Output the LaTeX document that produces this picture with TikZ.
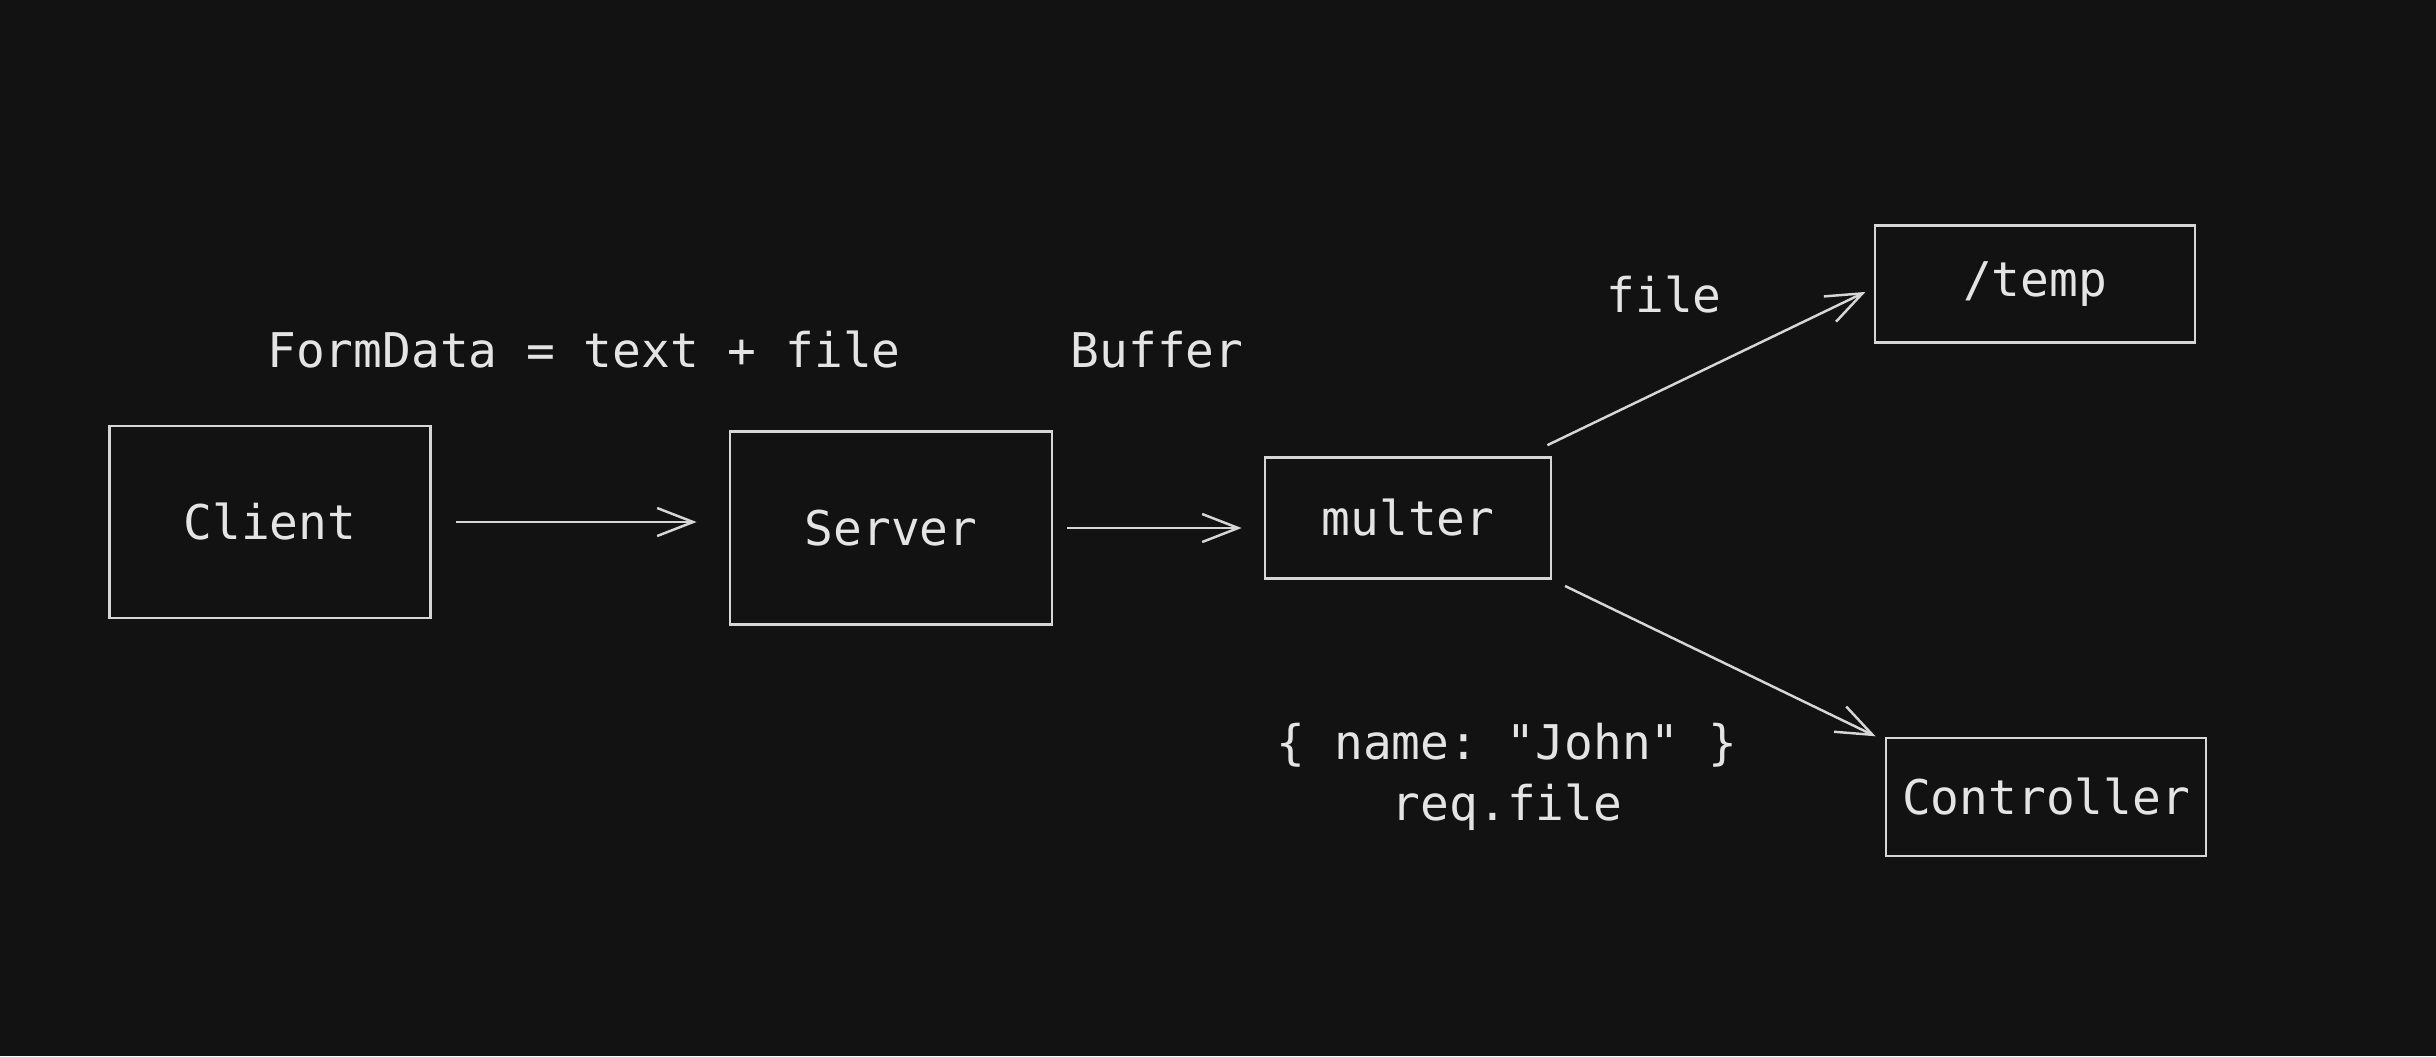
\documentclass[tikz,border=0pt]{standalone}
\usepackage{fontspec}
\setmonofont{DejaVu Sans Mono}
\usetikzlibrary{arrows.meta}
\definecolor{bg}{HTML}{121212}
\definecolor{ink}{HTML}{E4E4E4}
\definecolor{stroke}{HTML}{D6D6D6}
\begin{document}
\begin{tikzpicture}[x = 0.01cm, y = -0.01cm, >= {Straight Barb[length=3.6mm, width=2.8mm]},
    box/.style = {draw = stroke, line width = 0.75pt, inner sep = 0pt},
    txt/.style = {text = ink, font = \ttfamily\fontsize{13.6}{17.3}\selectfont},
    link/.style = {->, draw = stroke, line width = 0.7pt}]
      \fill[bg] (0, 0) rectangle (2436, 1056);
      \node[box, txt, minimum width = 3.21cm, minimum height = 1.92cm] (client) at (270, 522) {Client};
      \node[box, txt, minimum width = 3.22cm, minimum height = 1.93cm] (server) at (891, 528) {Server};
      \node[box, txt, minimum width = 2.86cm, minimum height = 1.21cm] (multer) at (1408, 518) {multer};
      \node[box, txt, minimum width = 3.20cm, minimum height = 1.17cm] (temp) at (2035, 284) {/temp};
      \node[box, txt, minimum width = 3.20cm, minimum height = 1.18cm] (ctrl) at (2046, 797) {Controller};
      \node[txt] (formdata) at (584, 350) {FormData = text + file};
      \node[txt] (buffer) at (1157, 350) {Buffer};
      \node[txt] (filelbl) at (1664, 295) {file};
      \node[txt, align = center] (payload) at (1507, 777) {\{ name: "John" \}\\req.file};
      \draw[link, shorten <= 0.24cm, shorten >= 0.32cm] (client.east) -- (client.east -| server.west);
      \draw[link, shorten <= 0.14cm, shorten >= 0.22cm] (server.east) -- (server.east -| multer.west);
      \draw[link, shorten >= 0.09cm] ([xshift = -0.05cm, yshift = 0.11cm]multer.north east) -- ([yshift = -0.04cm]temp.west);
      \draw[link, shorten <= 0.14cm, shorten >= 0.1cm] (multer.south east) -- ([yshift = -0.04cm]ctrl.north west);
    \end{tikzpicture}
\end{document}
